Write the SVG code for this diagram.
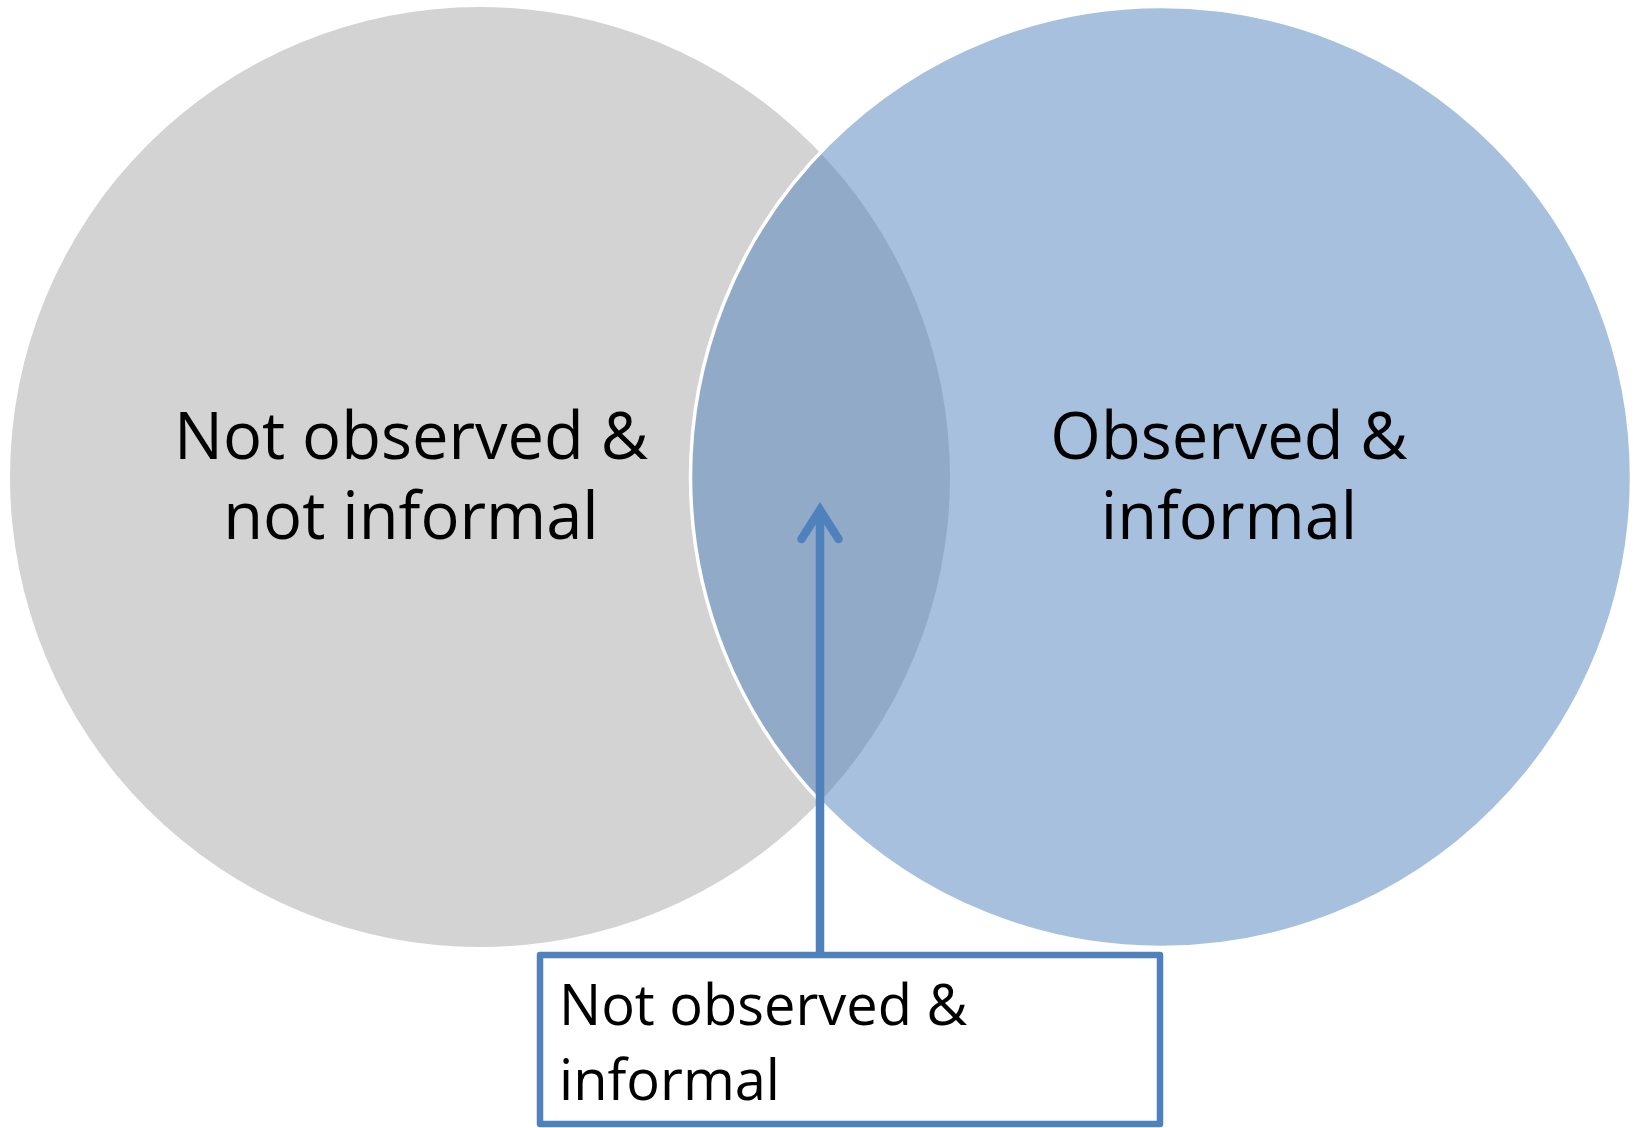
<svg xmlns="http://www.w3.org/2000/svg" width="1636" height="1128" viewBox="0 0 1636 1128">
  <style>
    .label { font-family: "Open Sans", "Noto Sans", "Liberation Sans", sans-serif; fill: #000000; }
    .big { font-size: 65px; }
    .small { font-size: 56px; }
    .connector { fill: none; stroke: #4F81BD; stroke-width: 8.5; }
  </style>
  <rect x="0" y="0" width="1636" height="1128" fill="#FFFFFF"/>

  <!-- Left set: not observed & not informal -->
  <g id="set-not-observed">
    <circle cx="480" cy="477" r="470" fill="#D3D3D3"/>
    <text class="label big" text-anchor="middle" x="411" y="459">Not observed &amp;</text>
    <text class="label big" text-anchor="middle" x="411" y="539">not informal</text>
  </g>

  <!-- Right set: observed & informal (semi-transparent, so the overlap darkens) -->
  <g id="set-observed">
    <circle cx="1161" cy="477" r="470.5" fill="#4F81BD" fill-opacity="0.5" stroke="#FFFFFF" stroke-width="3.5"/>
    <text class="label big" text-anchor="middle" x="1229" y="459">Observed &amp;</text>
    <text class="label big" text-anchor="middle" x="1229" y="539">informal</text>
  </g>

  <!-- Pointer from the callout up into the overlap -->
  <g id="connectors">
    <line class="connector" x1="820" y1="952" x2="820" y2="512"/>
    <polyline class="connector" points="801.5,539 820,510 838.5,539" stroke-linecap="round" stroke-linejoin="miter"/>
  </g>

  <!-- Callout box for the overlap -->
  <g id="callout-overlap">
    <rect x="540" y="955" width="620" height="169" fill="#FFFFFF" stroke="#4F81BD" stroke-width="6.5" stroke-linejoin="round"/>
    <text class="label small" x="559" y="1025">Not observed &amp;</text>
    <text class="label small" x="559" y="1100">informal</text>
  </g>
</svg>
